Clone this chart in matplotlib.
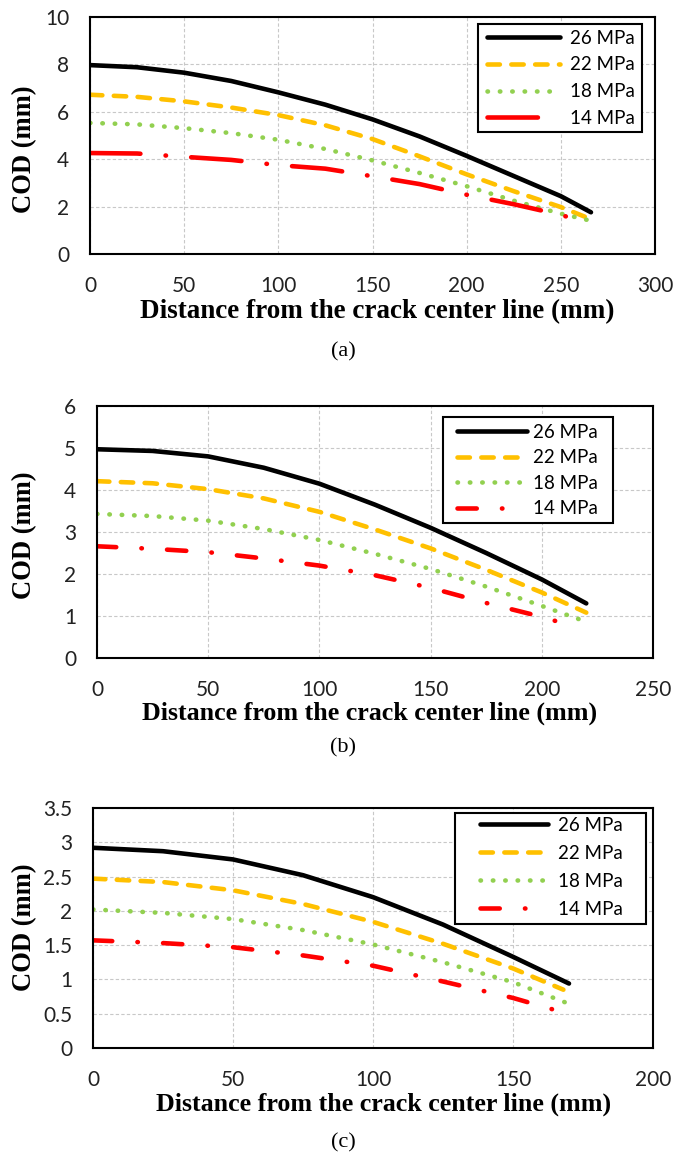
import matplotlib
matplotlib.use("Agg")
import matplotlib.pyplot as plt
from matplotlib.patches import Rectangle

# series labels and colours
labels = ["26 MPa", "22 MPa", "18 MPa", "14 MPa"]
colors = ["#000000", "#FFC000", "#92D050", "#FF0000"]

# panel (a)
xa_26 = [0, 25, 50, 75, 100, 125, 150, 175, 200, 225, 250, 266]
ya_26 = [7.97, 7.88, 7.65, 7.3, 6.82, 6.3, 5.68, 4.96, 4.14, 3.29, 2.44, 1.76]
xa_22 = [0, 25, 50, 75, 100, 125, 150, 175, 200, 225, 250, 266]
ya_22 = [6.72, 6.63, 6.44, 6.18, 5.86, 5.43, 4.85, 4.12, 3.36, 2.65, 1.98, 1.47]
xa_18 = [0, 25, 50, 75, 100, 125, 150, 175, 200, 225, 250, 265]
ya_18 = [5.53, 5.47, 5.31, 5.1, 4.82, 4.43, 3.95, 3.42, 2.86, 2.25, 1.7, 1.42]
xa_14 = [0, 25, 50, 75, 100, 125, 150, 175, 200, 225, 250, 264]
ya_14 = [4.26, 4.24, 4.1, 3.97, 3.75, 3.6, 3.28, 2.95, 2.5, 2.1, 1.65, 1.32]

# panel (b)
xb_26 = [0, 25, 50, 75, 100, 125, 150, 175, 200, 220]
yb_26 = [4.97, 4.93, 4.8, 4.53, 4.15, 3.65, 3.1, 2.5, 1.87, 1.3]
xb_22 = [0, 25, 50, 75, 100, 125, 150, 175, 200, 220]
yb_22 = [4.21, 4.16, 4.02, 3.8, 3.48, 3.06, 2.61, 2.1, 1.56, 1.08]
xb_18 = [0, 25, 50, 75, 100, 125, 150, 175, 200, 218]
yb_18 = [3.43, 3.38, 3.27, 3.07, 2.81, 2.48, 2.12, 1.7, 1.24, 0.9]
xb_14 = [0, 25, 50, 75, 100, 125, 150, 175, 200, 210]
yb_14 = [2.66, 2.6, 2.52, 2.37, 2.2, 1.97, 1.67, 1.31, 0.98, 0.82]

# panel (c)
xc_26 = [0, 25, 50, 75, 100, 125, 150, 170]
yc_26 = [2.92, 2.87, 2.75, 2.52, 2.2, 1.8, 1.33, 0.94]
xc_22 = [0, 25, 50, 75, 100, 125, 150, 168]
yc_22 = [2.47, 2.42, 2.3, 2.1, 1.84, 1.52, 1.16, 0.85]
xc_18 = [0, 25, 50, 75, 100, 125, 150, 169]
yc_18 = [2.02, 1.97, 1.88, 1.72, 1.51, 1.25, 0.96, 0.66]
xc_14 = [0, 25, 50, 75, 100, 125, 150, 167]
yc_14 = [1.57, 1.53, 1.47, 1.35, 1.2, 0.97, 0.73, 0.53]

# layout in pixels: axes box (l, t, r, b), legend box (l, t, r, b), rows, text rows
panels = [
    dict(tag="(a)", xs=[xa_26, xa_22, xa_18, xa_14], ys=[ya_26, ya_22, ya_18, ya_14],
         xlim=(0, 300), xstep=50, ylim=(0, 10), ystep=2, yfmt="%d",
         box=(90, 17, 655, 254), lbox=(478, 24, 642, 132), hx=487, row1=38, pitch=26.7,
         hl=3.9, htp=0.53, dd=(11, 5.5, 0.1, 5.5), xl=312, xlx=377, xfs=19.5, yl=149, tg=352),
    dict(tag="(b)", xs=[xb_26, xb_22, xb_18, xb_14], ys=[yb_26, yb_22, yb_18, yb_14],
         xlim=(0, 250), xstep=50, ylim=(0, 6), ystep=1, yfmt="%d",
         box=(97, 406, 653, 658), lbox=(443, 417, 613, 523), hx=457, row1=432, pitch=25.5,
         hl=3.73, htp=0.3, dd=(4.2, 5.5, 0.1, 5.5), xl=713, xlx=370, xfs=18.7, yl=535, tg=748),
    dict(tag="(c)", xs=[xc_26, xc_22, xc_18, xc_14], ys=[yc_26, yc_22, yc_18, yc_14],
         xlim=(0, 200), xstep=50, ylim=(0, 3.5), ystep=0.5, yfmt="%g",
         box=(93, 808, 653, 1048), lbox=(455, 813, 646, 924), hx=480, row1=825, pitch=28,
         hl=3.63, htp=0.53, dd=(4.2, 5.5, 0.1, 5.5), xl=1104, xlx=384, xfs=18.7, yl=927, tg=1143),
]

W, H = 686, 1157
fig = plt.figure(figsize=(W / 100, H / 100), dpi=100)
tick_font = "Lato"
lab_font = "Liberation Serif"
lw = 3.3
leg_fs = 13.5

for p in panels:
    l, t, r, b = p["box"]
    ax = fig.add_axes([l / W, 1 - b / H, (r - l) / W, (b - t) / H])
    styles = [dict(ls="-"),
              dict(ls=(0, (2.7, 2.5)), dash_capstyle="round"),
              dict(ls=(0, (0.1, 2.6)), dash_capstyle="round"),
              dict(ls=(0, p["dd"]), dash_capstyle="round")]
    for x, y, c, lab, st in zip(p["xs"], p["ys"], colors, labels, styles):
        ax.plot(x, y, color=c, lw=lw, label=lab, solid_capstyle="round", **st)

    ax.set_xlim(*p["xlim"])
    ax.set_ylim(*p["ylim"])
    xt = [p["xlim"][0] + i * p["xstep"] for i in range(int(p["xlim"][1] / p["xstep"]) + 1)]
    yt = [p["ylim"][0] + i * p["ystep"] for i in range(int(round(p["ylim"][1] / p["ystep"])) + 1)]
    ax.set_xticks(xt)
    ax.set_yticks(yt)
    ax.set_yticklabels([p["yfmt"] % v for v in yt])
    ax.tick_params(length=0, labelsize=15, labelcolor="#222222")
    ax.tick_params(axis="y", pad=15)
    ax.tick_params(axis="x", pad=16)
    for lb in ax.get_xticklabels() + ax.get_yticklabels():
        lb.set_fontfamily(tick_font)
    ax.grid(True, color="#c8c8c8", ls=(0, (3, 2)), lw=0.8)
    ax.set_axisbelow(True)
    for s in ax.spines.values():
        s.set_linewidth(1.5)
        s.set_color("black")

    fig.text(25 / W, 1 - p["yl"] / H, "COD (mm)", rotation=90, ha="center", va="center",
             fontfamily=lab_font, fontweight="bold", fontsize=19.2)
    fig.text(p["xlx"] / W, 1 - p["xl"] / H, "Distance from the crack center line (mm)",
             ha="center", va="center", fontfamily=lab_font, fontweight="bold", fontsize=p["xfs"])
    fig.text(343 / W, 1 - p["tg"] / H, p["tag"], ha="center", va="center",
             fontfamily=lab_font, fontsize=16)

    # legend frame drawn as its own box, entries placed inside it
    bl, bt, br, bb = p["lbox"]
    ax.add_patch(Rectangle((bl / W, 1 - bb / H), (br - bl) / W, (bb - bt) / H,
                           transform=fig.transFigure, facecolor="white", edgecolor="black",
                           lw=1.5, zorder=4, clip_on=False))
    fs_px = leg_fs * 100 / 72
    text_h = 0.9 * fs_px
    leg = ax.legend(loc="upper left", bbox_to_anchor=(p["hx"] / W, 1 - (p["row1"] - text_h / 2) / H),
                    bbox_transform=fig.transFigure, frameon=False, borderpad=0, borderaxespad=0,
                    handlelength=p["hl"], handletextpad=p["htp"],
                    labelspacing=(p["pitch"] - text_h) / fs_px,
                    prop={"family": tick_font, "size": leg_fs})
    leg.set_zorder(5)

fig.savefig("out.png", dpi=100)
